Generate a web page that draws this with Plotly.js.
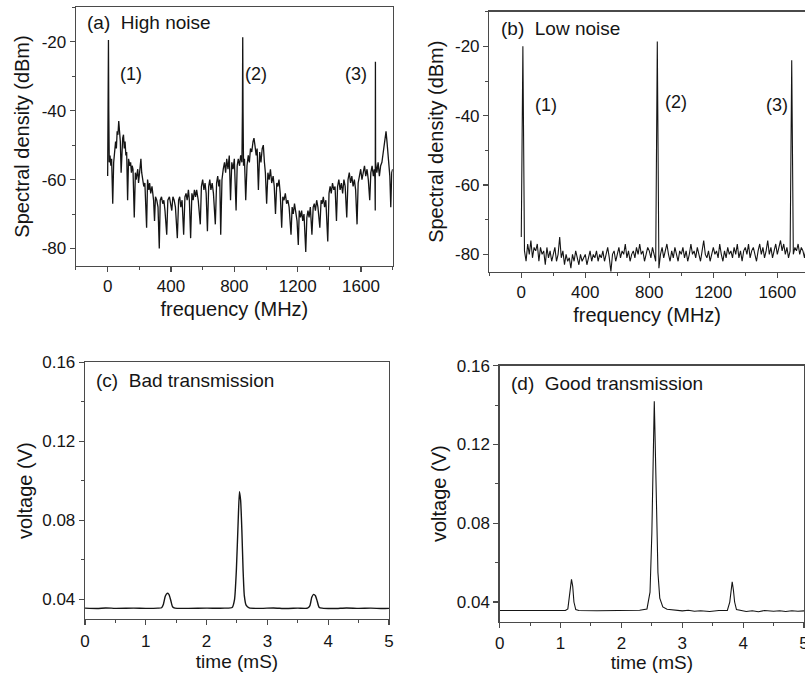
<!DOCTYPE html>
<html>
<head>
<meta charset="utf-8">
<script src="https://cdn.plot.ly/plotly-3.0.1.min.js"></script>
<style>
  html, body { margin: 0; padding: 0; background: #ffffff; }
  #chart { width: 805px; height: 673px; }
</style>
</head>
<body>
<div id="chart"></div>
<script>
// ---------- (a) High noise spectrum ----------
const freqA = [0,3,5,7,10,15,20,25,32,38,45,50,55,60,65,70,75,80,85,90,95,100,105,110,115,120,126,132,140,145,150,155,160,168,175,180,190,195,200,210,215,220,228,235,246,252,260,265,272,280,290,296,302,310,318,326,332,340,348,355,362,373,380,390,398,405,412,420,428,440,448,455,462,470,480,488,495,502,510,516,524,532,540,548,555,562,572,585,592,600,608,615,622,630,638,645,652,660,668,680,688,695,702,708,714,722,730,738,745,752,760,768,776,784,792,800,811,818,825,833,840,848,851,853,855,858,864,872,880,888,895,902,910,918,924,930,938,944,952,960,968,976,983,990,996,1004,1012,1020,1028,1036,1045,1052,1060,1068,1075,1082,1090,1099,1106,1114,1122,1130,1138,1146,1158,1165,1172,1180,1188,1196,1204,1210,1218,1225,1232,1240,1251,1258,1265,1272,1280,1290,1298,1305,1312,1320,1328,1340,1348,1355,1362,1370,1378,1390,1398,1405,1412,1420,1428,1436,1445,1452,1460,1468,1476,1484,1492,1500,1510,1518,1526,1534,1542,1550,1558,1566,1575,1582,1590,1598,1606,1614,1622,1630,1638,1646,1655,1662,1670,1678,1684,1688,1690,1691,1692,1700,1708,1716,1724,1732,1740,1748,1754,1758,1764,1770,1776,1782,1788,1794,1800];
const specA = [-59,-40,-19.5,-40,-55,-53,-56,-54,-67,-55,-52,-49,-51,-46,-47,-43,-46,-49,-58,-50,-48,-47,-51,-49,-53,-52,-66,-54,-56,-55,-58,-56,-57,-71,-58,-60,-57,-61,-59,-54,-58,-60,-62,-61,-74,-60,-63,-61,-64,-62,-66,-72,-65,-66,-68,-80,-66,-65,-67,-66,-69,-76,-66,-65,-67,-69,-65,-66,-68,-77,-66,-65,-68,-66,-76,-65,-64,-66,-63,-66,-77,-64,-66,-63,-65,-63,-66,-73,-62,-60,-63,-61,-64,-75,-62,-60,-63,-61,-64,-73,-61,-59,-62,-60,-76,-60,-57,-55,-58,-54,-57,-53,-66,-55,-57,-54,-69,-56,-54,-56,-53,-55,-40,-18.7,-40,-56,-54,-66,-56,-53,-55,-51,-52,-49,-48,-50,-53,-51,-63,-52,-55,-51,-50,-55,-58,-67,-58,-60,-57,-61,-59,-62,-70,-61,-62,-60,-64,-74,-65,-66,-64,-67,-66,-68,-76,-68,-70,-67,-70,-72,-79,-69,-71,-69,-72,-70,-81,-71,-69,-71,-68,-76,-68,-67,-69,-66,-68,-74,-66,-67,-65,-68,-66,-78,-64,-62,-64,-61,-63,-62,-72,-62,-60,-63,-61,-64,-60,-62,-71,-60,-58,-61,-59,-62,-60,-63,-73,-61,-59,-57,-60,-58,-56,-59,-57,-60,-66,-58,-56,-59,-57,-60,-69,-25.8,-55,-58,-55,-59,-56,-55,-52,-50,-47,-46,-49,-52,-56,-59,-68,-58,-57];

// ---------- (b) Low noise spectrum (10 MHz grid) ----------
const freqStepB = 10;
const specB = [-75,-20,-79,-82,-77,-80,-76,-81,-78,-79,
  -77,-82,-78,-80,-79,-83,-78,-81,-79,-82,
  -80,-78,-82,-80,-75,-81,-79,-83,-80,-82,
  -81,-84,-80,-82,-79,-81,-83,-80,-82,-81,
  -80,-83,-81,-79,-82,-80,-81,-79,-82,-80,
  -81,-79,-82,-80,-78,-81,-85,-80,-79,-82,
  -80,-78,-81,-79,-80,-77,-81,-79,-82,-80,
  -79,-81,-78,-80,-77,-80,-79,-82,-80,-78,
  -79,-81,-78,-80,-82,-18.6,-84,-80,-78,-81,
  -79,-77,-80,-82,-79,-81,-78,-80,-82,-79,
  -80,-78,-81,-79,-82,-80,-77,-80,-79,-81,
  -78,-80,-82,-79,-76,-80,-81,-79,-82,-80,
  -78,-80,-79,-81,-77,-80,-82,-79,-81,-78,
  -80,-79,-81,-78,-80,-77,-81,-79,-82,-79,
  -78,-80,-77,-81,-79,-78,-80,-82,-79,-77,
  -80,-78,-81,-79,-76,-80,-78,-81,-79,-77,
  -80,-78,-76,-79,-77,-80,-78,-81,-79,-24,
  -80,-78,-79,-77,-80,-78,-79,-81,-78,-79,-80];
const freqB = specB.map((_, i) => i * freqStepB);

// ---------- (c) Bad transmission ----------
const timeC = [0,0.2,0.34,0.5,0.8,1.0,1.2,1.26,1.29,1.32,1.35,1.38,1.41,1.44,1.48,1.7,2.0,2.3,2.42,2.46,2.49,2.52,2.54,2.56,2.58,2.60,2.62,2.65,2.70,2.9,3.1,3.3,3.5,3.66,3.70,3.73,3.76,3.79,3.82,3.85,3.9,4.1,4.3,4.5,4.7,4.9,5.0];
const voltC = [0.0355,0.0353,0.0356,0.0354,0.0355,0.0354,0.0355,0.0357,0.0375,0.0415,0.0430,0.0425,0.0395,0.0362,0.0355,0.0354,0.0355,0.0355,0.0358,0.040,0.055,0.080,0.0945,0.090,0.075,0.055,0.042,0.037,0.0356,0.0354,0.0356,0.0353,0.0355,0.0355,0.0368,0.041,0.0425,0.0418,0.039,0.036,0.0355,0.0353,0.0356,0.0354,0.0355,0.0353,0.0354];

// ---------- (d) Good transmission ----------
const timeD = [0,0.3,0.6,0.9,1.08,1.12,1.15,1.18,1.20,1.22,1.25,1.3,1.6,2.0,2.3,2.42,2.47,2.50,2.53,2.54,2.55,2.57,2.60,2.63,2.68,2.75,2.9,3.0,3.1,3.2,3.3,3.45,3.6,3.74,3.78,3.80,3.82,3.84,3.86,3.89,3.95,4.05,4.15,4.25,4.35,4.5,4.6,4.7,4.8,4.9,5.0];
const voltD = [0.0357,0.0356,0.0357,0.0356,0.0357,0.0365,0.043,0.0515,0.048,0.040,0.0362,0.0357,0.0356,0.0357,0.0358,0.0365,0.045,0.075,0.130,0.142,0.128,0.090,0.055,0.042,0.0375,0.0363,0.036,0.0355,0.0358,0.0353,0.0356,0.0352,0.0357,0.0357,0.040,0.047,0.0503,0.046,0.040,0.0362,0.0357,0.0352,0.0356,0.0351,0.0357,0.0353,0.0356,0.0352,0.0356,0.0353,0.0355];

// ---------- text ----------
const panelLabels = ['(a)  High noise', '(b)  Low noise', '(c)  Bad transmission', '(d)  Good transmission'];
const peakLabels = ['(1)', '(2)', '(3)'];
const freqTicks = [0, 400, 800, 1200, 1600];
const dbTicks = [-80, -60, -40, -20];
const dbTickText = ['-80', '-60', '-40', '-20'];
const timeTicks = [0, 1, 2, 3, 4, 5];
const voltTicks = [0.04, 0.08, 0.12, 0.16];
const voltTickText = ['0.04', '0.08', '0.12', '0.16'];

const FONT = 'Liberation Sans, Arial, Helvetica, sans-serif';
const INK = '#151515';
const LINE = '#4a4a4a';

function axis(domain, range, tickvals, minorDtick, titleText, mirror, standoff, titleSize, extra) {
  return Object.assign({
    domain: domain, range: range, tickvals: tickvals,
    showgrid: false, zeroline: false,
    showline: true, linecolor: LINE, linewidth: 1.3, mirror: mirror,
    ticks: 'outside', ticklen: 5, tickwidth: 1.2, tickcolor: LINE,
    minor: { dtick: minorDtick, ticks: 'outside', ticklen: 3, tickwidth: 1, tickcolor: LINE, showgrid: false },
    tickfont: { family: FONT, size: 17, color: INK },
    title: { text: titleText, font: { family: FONT, size: titleSize, color: INK }, standoff: standoff },
    automargin: false, fixedrange: true
  }, extra || {});
}

const traces = [
  { x: freqA, y: specA, xaxis: 'x', yaxis: 'y', type: 'scatter', mode: 'lines', line: { color: INK, width: 1.3 }, hoverinfo: 'skip' },
  { x: freqB, y: specB, xaxis: 'x2', yaxis: 'y2', type: 'scatter', mode: 'lines', line: { color: INK, width: 1.1 }, hoverinfo: 'skip' },
  { x: timeC, y: voltC, xaxis: 'x3', yaxis: 'y3', type: 'scatter', mode: 'lines', line: { color: INK, width: 1.4, shape: 'spline', smoothing: 0.5 }, hoverinfo: 'skip' },
  { x: timeD, y: voltD, xaxis: 'x4', yaxis: 'y4', type: 'scatter', mode: 'lines', line: { color: INK, width: 1.1 }, hoverinfo: 'skip' }
];

function ann(text, xref, yref, x, y, size, xanchor) {
  return { text: text, xref: xref, yref: yref, x: x, y: y, showarrow: false,
           xanchor: xanchor || 'center', yanchor: 'middle',
           font: { family: FONT, size: size, color: INK } };
}

const annotations = [
  ann(panelLabels[0], 'x domain', 'y domain', 0.03, 0.94, 19, 'left'),
  ann(panelLabels[1], 'x2 domain', 'y2 domain', 0.03, 0.935, 19, 'left'),
  ann(panelLabels[2], 'x3 domain', 'y3 domain', 0.03, 0.93, 19, 'left'),
  ann(panelLabels[3], 'x4 domain', 'y4 domain', 0.03, 0.93, 19, 'left'),
  ann(peakLabels[0], 'x', 'y', 150, -29.5, 18),
  ann(peakLabels[1], 'x', 'y', 935, -29.5, 18),
  ann(peakLabels[2], 'x', 'y', 1570, -29.5, 18),
  ann(peakLabels[0], 'x2', 'y2', 155, -37, 18),
  ann(peakLabels[1], 'x2', 'y2', 970, -36, 18),
  ann(peakLabels[2], 'x2', 'y2', 1595, -37, 18)
];

const layout = {
  width: 805, height: 673,
  margin: { l: 0, r: 0, t: 0, b: 0, pad: 0 },
  paper_bgcolor: '#ffffff', plot_bgcolor: '#ffffff',
  showlegend: false,
  font: { family: FONT, color: INK },
  xaxis: axis([0.0944, 0.4878], [-200, 1800], freqTicks, 200, 'frequency (MHz)', true, 6, 20, { anchor: 'y' }),
  yaxis: axis([0.6052, 0.9892], [-85, -10], dbTicks, 10, 'Spectral density (dBm)', true, 6, 20, { anchor: 'x', ticktext: dbTickText }),
  xaxis2: axis([0.6078, 1.0], [-200, 1773], freqTicks, 200, 'frequency (MHz)', true, 6, 20, { anchor: 'y2' }),
  yaxis2: axis([0.5963, 0.9826], [-85, -10], dbTicks, 10, 'Spectral density (dBm)', false, 6, 20, { anchor: 'x2', ticktext: dbTickText }),
  xaxis3: axis([0.1056, 0.4832], [0, 5], timeTicks, 0.5, 'time (mS)', true, 2, 19, { anchor: 'y3', ticklabelstandoff: 1 }),
  yaxis3: axis([0.0802, 0.4617], [0.03, 0.16], voltTicks, 0.02, 'voltage (V)', true, 4, 20, { anchor: 'x3', ticktext: voltTickText }),
  xaxis4: axis([0.6207, 0.9988], [0, 5], timeTicks, 0.5, 'time (mS)', true, 2, 19, { anchor: 'y4', ticklabelstandoff: 1, ticklabeloverflow: 'allow' }),
  yaxis4: axis([0.0762, 0.4566], [0.03, 0.16], voltTicks, 0.02, 'voltage (V)', true, 5, 20, { anchor: 'x4', ticktext: voltTickText }),
  annotations: annotations
};

Plotly.newPlot('chart', traces, layout, { displayModeBar: false, staticPlot: true });
</script>
</body>
</html>
